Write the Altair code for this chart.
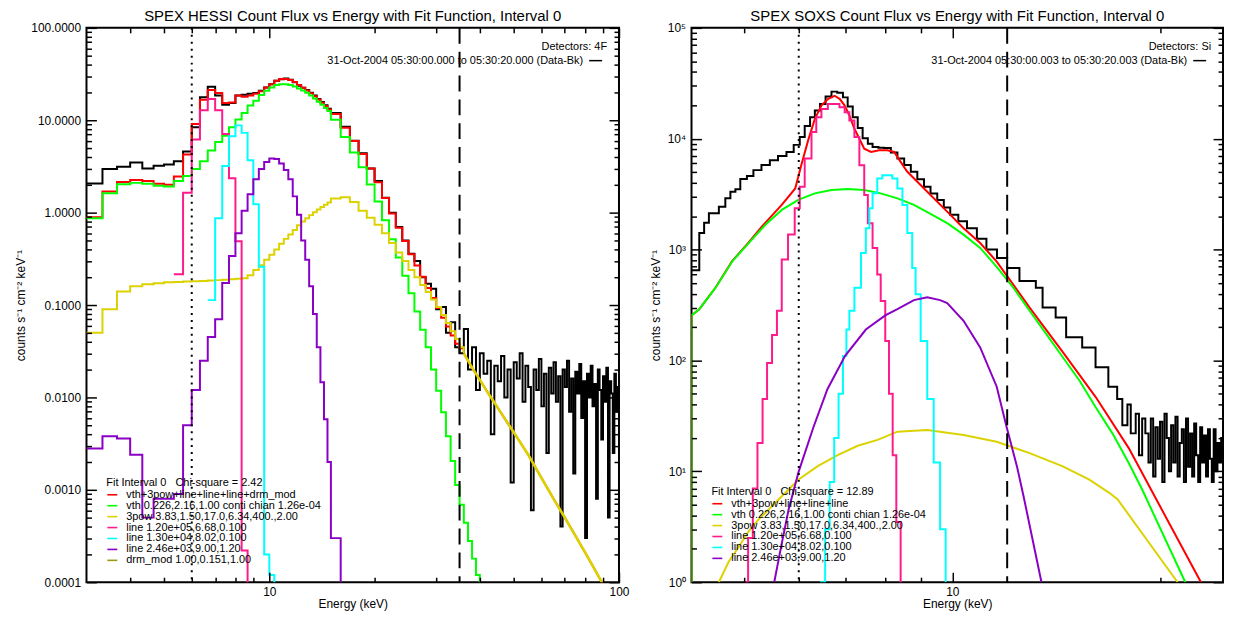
import altair as alt
import pandas as pd

FONT = "Liberation Sans"

# ======================= HESSI (left panel) =======================
h_fine_E = [3.0, 3.333, 3.667, 4.0, 4.333, 4.667, 5.0, 5.333, 5.667, 6.0, 6.333, 6.667,
            7.0, 7.333, 7.667, 8.0, 8.333, 8.667, 9.0, 9.333, 9.667, 10.0, 10.333, 10.667,
            11.0, 11.333, 11.667, 12.0, 12.333, 12.667, 13.0, 13.333, 13.667, 14.0, 14.333, 14.667]
h_coarse_E = [15, 16, 17, 18, 19, 20, 21, 22, 23, 24, 25, 26, 27, 28, 29, 30, 31, 32, 33, 34,
              35, 36, 37, 38, 39, 40, 41, 42, 43, 44, 45, 46, 47, 48, 49, 50, 51, 52, 53, 54,
              55, 56, 57, 58, 59, 60, 61, 62, 63, 64, 65, 66, 67, 68, 69, 70, 71, 72, 73, 74,
              75, 76, 77, 78, 79, 80, 81, 82, 83, 84, 85, 86, 87, 88, 89, 90, 91, 92, 93, 94,
              95, 96, 97, 98, 99, 100]

h_black_fine = [2.07, 2.96, 3.13, 3.48, 3.0, 3.21, 3.32, 3.6, 4.6, 8.4, 17.7, 23.1,
                18.5, 14.7, 15.4, 18.5, 18.9, 19.3, 19.7, 20.9, 22.6, 24.5, 26.7, 27.8,
                28.3, 27.4, 25.7, 23.6, 22.5, 21.2, 19.8, 18.5, 17.0, 15.8, 14.5, 13.3]
h_black_coarse = [12.0, 8.5, 6.0, 4.4, 3.0, 2.2, 1.45, 1.0, 0.70, 0.50, 0.36, 0.30, 0.20, 0.17,
                  0.15, 0.09, 0.095, 0.05, 0.065, 0.035,
                  0.03, 0.055, 0.02, 0.035, 0.012, 0.03, 0.018, 0.025, 0.004, 0.022, 0.015, 0.028,
                  0.01, 0.02, 0.0012, 0.024, 0.016, 0.03, 0.009, 0.022, 0.013, 0.0006, 0.02,
                  0.012, 0.026, 0.008, 0.018, 0.0025, 0.021, 0.011, 0.024, 0.009, 0.017, 0.0004,
                  0.02, 0.013, 0.025, 0.007, 0.016, 0.0015, 0.019, 0.011, 0.023, 0.006, 0.015,
                  0.0003, 0.018, 0.01, 0.022, 0.008, 0.014, 0.0008, 0.02, 0.012, 0.0035, 0.017,
                  0.009, 0.021, 0.0005, 0.015, 0.011, 0.0025, 0.018, 0.007, 0.013, 0.013]

h_red_fine = [0.89, 1.69, 2.15, 2.26, 2.2, 2.05, 2.0, 2.46, 4.26, 9.1, 16.7, 21.3,
              19.7, 15.4, 15.6, 18.5, 18.0, 18.5, 19.4, 20.6, 22.6, 24.5, 26.7, 28.0,
              28.0, 27.3, 26.0, 24.0, 22.5, 21.0, 19.6, 18.2, 16.8, 15.5, 14.3, 13.1]
h_red_coarse_E = [15, 16, 17, 18, 19, 20, 21, 22, 23, 24, 25, 26, 27, 28, 29, 30, 31, 32, 33, 34,
                  35, 36]
h_red_coarse = [11.7, 8.3, 5.96, 4.32, 3.01, 2.13, 1.44, 0.98, 0.685, 0.494, 0.355, 0.268, 0.202,
                0.153, 0.119, 0.093, 0.073, 0.0585, 0.0467, 0.038, 0.034, 0.034]

h_green_fine = [0.87, 1.62, 2.03, 2.1, 2.05, 1.95, 1.92, 2.2, 2.49, 2.96, 3.6, 4.7,
                5.8, 6.8, 8.4, 10.2, 12.0, 14.4, 16.3, 18.8, 20.9, 22.6, 24.0, 24.5,
                24.5, 24.0, 23.2, 22.1, 21.0, 19.8, 18.5, 17.2, 15.9, 14.7, 13.6, 12.6]
h_green_coarse_E = [15, 16, 17, 18, 19, 20, 21, 22, 23, 24, 25, 26, 27, 28, 29, 30, 31, 32, 33,
                    34, 35, 36, 37, 38, 39, 40, 41, 42]
h_green_coarse = [10.1, 6.57, 4.47, 3.1, 2.02, 1.32, 0.825, 0.515, 0.326, 0.208, 0.134, 0.085,
                  0.054, 0.035, 0.020, 0.0118, 0.0069, 0.0038, 0.00205, 0.00113, 0.00069,
                  0.00044, 0.00028, 0.00018, 0.00012, 0.00008, 0.00005, 0.00005]

h_yellow_fine = [0.05, 0.09, 0.14, 0.16, 0.168, 0.172, 0.176, 0.178, 0.18, 0.181, 0.182, 0.184,
                 0.186, 0.188, 0.19, 0.192, 0.195, 0.21, 0.24, 0.27, 0.31, 0.35, 0.40, 0.46,
                 0.52, 0.58, 0.65, 0.73, 0.80, 0.87, 0.94, 1.01, 1.08, 1.15, 1.22, 1.29]
h_yellow_mid_E = [15, 16, 17, 18, 19, 20, 21, 22, 23, 24, 25, 26, 27, 28, 29, 30, 31, 32, 33,
                  34, 35, 36]
h_yellow_mid = [1.42, 1.47, 1.3, 1.05, 0.88, 0.74, 0.6, 0.47, 0.37, 0.3, 0.24, 0.2, 0.165,
                0.138, 0.115, 0.095, 0.078, 0.064, 0.052, 0.043, 0.035, 0.03]
h_yellow_tail_E = [36, 38, 40, 42, 44, 46, 48, 50, 55, 60, 65, 70, 75, 80, 85, 90, 95, 100]
h_yellow_tail = [0.03, 0.021, 0.0155, 0.0115, 0.0088, 0.0068, 0.0053, 0.0042, 0.0024, 0.00135,
                 0.0008, 0.0005, 0.00032, 0.00021, 0.00014, 0.000095, 0.000068, 0.00005]

h_pink_E = [5.333, 5.667, 6.0, 6.333, 6.667, 7.0, 7.333, 7.667, 8.0, 8.333, 8.667, 9.0]
h_pink = [0.216, 1.64, 6.2, 12.8, 17.0, 12.8, 7.1, 2.36, 0.49, 0.00022, 0.00002, 0.00002]

h_cyan_E = [6.667, 7.0, 7.333, 7.667, 8.0, 8.333, 8.667, 9.0, 9.333, 9.667, 10.0, 10.333, 10.667]
h_cyan = [0.113, 0.87, 3.2, 6.7, 8.8, 7.3, 3.7, 1.23, 0.26, 0.0002, 0.00012, 0.00002, 0.00002]

h_purple_E = [3.0, 3.333, 3.667, 4.0, 4.333, 4.667, 5.0, 5.333, 5.667, 6.0, 6.333, 6.667,
              7.0, 7.333, 7.667, 8.0, 8.333, 8.667, 9.0, 9.333, 9.667, 10.0, 10.333, 10.667,
              11.0, 11.333, 11.667, 12.0, 12.333, 12.667, 13.0, 13.333, 13.667, 14.0, 14.333,
              14.667, 15.0, 16.0, 17.0]
h_purple = [0.0028, 0.0038, 0.0036, 0.0024, 0.0005, 0.0008, 0.0008, 0.0009, 0.005, 0.012,
            0.025, 0.045, 0.07, 0.173, 0.34, 0.60, 1.05, 1.58, 2.3, 2.96, 3.54, 3.85, 3.8, 3.4,
            2.9, 2.3, 1.5, 0.95, 0.5, 0.31, 0.16, 0.08, 0.035, 0.0146, 0.0058, 0.002, 0.0003,
            0.00001, 0.00001]

h_labels = ["vth+3pow+line+line+line+drm_mod",
            "vth 0.226,2.16,1.00  conti chian 1.26e-04",
            "3pow 3.83,1.50,17.0,6.34,400.,2.00",
            "line 1.20e+05,6.68,0.100",
            "line 1.30e+04,8.02,0.100",
            "line 2.46e+03,9.00,1.20",
            "drm_mod 1.00,0.151,1.00"]
h_colors = ["#ff0000", "#00ff00", "#dcd200", "#ff1a8c", "#00ffff", "#8a00c4", "#9a9a10"]

# ======================= SOXS (right panel) =======================
s_black_E = [4.20, 4.31, 4.38, 4.45, 4.60, 4.70, 4.78, 4.86, 4.94, 5.05, 5.16, 5.30, 5.45, 5.60,
             5.76, 5.90, 6.02, 6.12, 6.23, 6.33, 6.44, 6.56, 6.69, 6.82, 6.95, 7.06, 7.18, 7.30,
             7.42, 7.55, 7.67, 7.82, 7.97, 8.15, 8.33, 8.52, 8.71, 8.90, 9.10, 9.30, 9.51, 9.72,
             9.93, 10.2, 10.5, 10.85, 11.2, 11.6, 12.0, 12.5, 13.2, 13.5, 14.1, 14.6, 15.4, 16.1,
             16.8, 17.3, 17.6, 17.9, 18.1, 18.4, 18.6, 18.8, 19.0, 19.2, 19.35, 19.5, 19.65, 19.8,
             19.95, 20.1, 20.25, 20.4, 20.55, 20.7, 20.85, 21.0, 21.15, 21.3, 21.45, 21.6, 21.75,
             21.9, 22.05, 22.2, 22.35, 22.5, 22.65, 22.8, 22.95, 23.1, 23.25, 23.4, 23.55, 23.7,
             23.85, 24.0, 24.15, 24.3, 24.45, 24.6]
s_black = [650, 1410, 1750, 2130, 2440, 2900, 3330, 3500, 4330, 4600, 5210, 5800, 6400, 7000,
           7600, 8800, 10350, 13000, 15600, 18000, 20600, 24000, 26600, 26000, 23600, 19500,
           15600, 12500, 10100, 9000, 8410, 8300, 8240, 7500, 6620, 5800, 5030, 4300, 3690, 3200,
           2800, 2400, 2060, 1800, 1560, 1250, 1000, 841, 684, 520, 453, 300, 244, 162, 131, 87,
           58, 45, 26, 40, 22, 33, 14, 30, 22, 12, 30, 9, 25, 13, 28, 8, 33, 20, 10, 26, 12, 31,
           9, 18, 24, 8, 30, 11, 22, 9, 27, 14, 8, 25, 12, 21, 9, 24, 13, 8, 24, 10, 18, 12, 20,
           20]

s_red_E = [4.2, 4.2, 4.31, 4.55, 4.81, 5.08, 5.31, 5.67, 5.93, 6.05, 6.19, 6.33, 6.47, 6.61, 6.76,
           6.88, 6.99, 7.10, 7.22, 7.34, 7.46, 7.63, 7.84, 8.06, 8.24, 8.42, 8.61, 8.90, 9.30,
           9.83, 10.38, 10.97, 11.59, 12.93, 14.44, 16.1, 17.98, 19.65, 22.86]
s_red = [0.5, 255, 290, 455, 790, 1160, 1620, 2530, 3560, 5770, 9660, 15100, 19900, 22800, 24400,
         22800, 19900, 16200, 12300, 10000, 8130, 7600, 7870, 7870, 7600, 6180, 5030, 4090, 3110,
         2200, 1560, 1145, 780, 300, 119, 47, 16.2, 5.77, 1.0]

s_green_E = [4.2, 4.2, 4.31, 4.55, 4.81, 5.08, 5.37, 5.67, 5.99, 6.33, 6.69, 7.06, 7.46, 7.88,
             8.33, 8.80, 9.30, 9.83, 10.38, 10.97, 11.59, 12.25, 12.93, 13.67, 14.44, 15.26,
             16.1, 17.03, 17.98, 18.8, 21.7]
s_green = [0.5, 255, 290, 453, 785, 1145, 1675, 2280, 2805, 3215, 3450, 3520, 3450, 3215, 2900,
           2530, 2100, 1730, 1365, 1035, 700, 453, 281, 173, 107, 66, 38, 22, 11.9, 6.85, 1.0]

s_yellow_E = [4.6, 4.75, 4.91, 5.08, 5.25, 5.43, 5.61, 5.80, 5.99, 6.4, 6.84, 7.3, 7.8, 8.33,
              9.2, 10.38, 11.59, 12.93, 14.44, 15.77, 16.85, 17.32, 21.15]
s_yellow = [1.0, 1.52, 2.07, 2.88, 3.69, 4.53, 5.57, 6.85, 8.4, 11.2, 14.1, 17.0, 19.2, 22.8,
            23.6, 21.3, 18.5, 14.6, 11.1, 8.4, 6.4, 5.6, 1.0]

s_pink_E = [5.0, 5.07, 5.15, 5.23, 5.32, 5.40, 5.49, 5.58, 5.67, 5.79, 5.92, 6.02, 6.12, 6.26,
            6.36, 6.47, 6.61, 6.76, 6.87, 6.99, 7.10, 7.22, 7.34, 7.46, 7.55, 7.67, 7.79, 7.88,
            8.0, 8.1, 8.2, 8.3, 8.42]
s_pink = [1.0, 2.5, 7, 18, 45, 95, 170, 281, 815, 1365, 2360, 3690, 6620, 11500, 15600, 18500,
          20600, 20600, 19200, 17300, 14600, 10350, 5770, 3110, 1730, 1035, 597, 344, 150, 50,
          14, 3.5, 0.9]

s_cyan_E = [6.44, 6.55, 6.65, 6.75, 6.85, 6.95, 7.03, 7.10, 7.22, 7.38, 7.50, 7.59, 7.67, 7.79,
            7.92, 8.06, 8.19, 8.33, 8.47, 8.61, 8.75, 8.85, 9.0, 9.2, 9.4, 9.6, 9.78]
s_cyan = [1.0, 3, 8, 20, 50, 110, 190, 281, 453, 933, 1560, 2360, 3215, 4380, 4690, 4690, 4380,
          3560, 2530, 1410, 684, 395, 150, 45, 12, 3, 1.0]

s_purple_E = [5.53, 5.65, 5.8, 6.0, 6.3, 6.6, 7.0, 7.5, 8.0, 8.33, 8.8, 9.2, 9.6, 9.83, 10.38,
              10.97, 11.59, 11.98, 12.4, 12.67, 13.45]
s_purple = [1.0, 2, 4.5, 10, 25, 55, 110, 190, 255, 290, 350, 372, 350, 330, 228, 131, 58, 25,
            11, 6, 1.0]

s_labels = ["vth+3pow+line+line+line",
            "vth 0.226,2.16,1.00  conti chian 1.26e-04",
            "3pow 3.83,1.50,17.0,6.34,400.,2.00",
            "line 1.20e+05,6.68,0.100",
            "line 1.30e+04,8.02,0.100",
            "line 2.46e+03,9.00,1.20"]
s_colors = ["#ff0000", "#00ff00", "#dcd200", "#ff1a8c", "#00ffff", "#8a00c4"]

# ---------------- axis tick positions ----------------
h_x_major = [10, 100]
h_x_minor = [4, 5, 6, 7, 8, 9, 20, 30, 40, 50, 60, 70, 80, 90]
h_y_major = [0.0001, 0.001, 0.01, 0.1, 1, 10, 100]
h_y_minor = [m * d for d in [0.0001, 0.001, 0.01, 0.1, 1, 10] for m in range(2, 10)]
s_x_major = [10]
s_x_minor = [5, 6, 7, 8, 9, 20]
s_y_major = [1, 10, 100, 1000, 10000, 100000]
s_y_minor = [m * d for d in [1, 10, 100, 1000, 10000] for m in range(2, 10)]

h_marks = {"dotted": 6.0, "dashed": 35.0}
s_marks = {"dotted": 6.0, "dashed": 12.0}

W_L, W_R, H = 536, 535, 558
YTITLE = "counts s\u207b\u00b9 cm\u207b\u00b2 keV\u207b\u00b9"
NB = "\u00a0"


def frame(E, F, label=None):
    d = pd.DataFrame({"E": E, "F": F, "i": list(range(len(E)))})
    if label is not None:
        d["label"] = label
    return d


def tick_axes(orient_x, orient_y, xv, yv, size):
    ax = alt.Axis(orient=orient_x, values=xv, tickSize=size, offset=-size, labels=False,
                  domain=False, grid=False, title=None, tickColor="black", tickWidth=1.5,
                  zindex=2)
    ay = alt.Axis(orient=orient_y, values=yv, tickSize=size, offset=-size, labels=False,
                  domain=False, grid=False, title=None, tickColor="black", tickWidth=1.5,
                  zindex=2)
    return ax, ay


def build(xdom, ydom, width, x_major, x_minor, y_major, y_minor, x_label_vals, y_label_expr,
          y_title_pad, series, labels, colors, legend_title, legend_y, marks, title,
          det_text, date_text):
    xs = alt.Scale(type="log", domain=xdom, nice=False)
    ys = alt.Scale(type="log", domain=ydom, nice=False)
    cs = alt.Scale(domain=labels, range=colors)
    leg = alt.Legend(orient="none", legendX=20, legendY=legend_y, title=legend_title,
                     titleFontSize=11, titleFontWeight="normal", titleFont=FONT,
                     titleColor="black", titlePadding=1, labelFontSize=11, labelFont=FONT,
                     labelColor="black", labelLimit=500, symbolType="stroke",
                     symbolStrokeWidth=1.6, symbolSize=100, rowPadding=-0.7, padding=0,
                     labelOffset=8)
    lab_x = alt.Axis(orient="bottom", values=x_label_vals, ticks=False, domain=False, grid=False,
                     labelFontSize=12, labelFont=FONT, labelColor="black", labelPadding=4,
                     labelFlush=False, format="d", title="Energy (keV)", titleFontSize=12,
                     titleFont=FONT, titleFontWeight="normal", titleColor="black",
                     titlePadding=1)
    lab_y = alt.Axis(orient="left", values=y_major, ticks=False, domain=False, grid=False,
                     labelFontSize=12, labelFont=FONT, labelColor="black", labelPadding=6,
                     labelFlush=False, labelExpr=y_label_expr, title=YTITLE, titleFontSize=12,
                     titleFont=FONT, titleFontWeight="normal", titleColor="black",
                     titlePadding=y_title_pad)
    axis_pairs = [(lab_x, lab_y),
                  tick_axes("bottom", "left", x_major, y_major, 10),
                  tick_axes("bottom", "left", x_minor, y_minor, 5),
                  tick_axes("top", "right", x_major, y_major, 10),
                  tick_axes("top", "right", x_minor, y_minor, 5)]
    layers = []
    for k, (d, interp, colored, sw) in enumerate(series):
        ax, ay = axis_pairs[k] if k < len(axis_pairs) else (None, None)
        enc = dict(x=alt.X("E:Q", scale=xs, axis=ax),
                   y=alt.Y("F:Q", scale=ys, axis=ay),
                   order=alt.Order("i:Q"))
        if not colored:
            m = alt.Chart(d).mark_line(interpolate=interp, color="black", strokeWidth=sw, clip=True)
        else:
            m = alt.Chart(d).mark_line(interpolate=interp, strokeWidth=sw, clip=True)
            enc["color"] = alt.Color("label:N", scale=cs, legend=leg)
        layers.append(m.encode(**enc))
    # vertical markers
    layers.append(alt.Chart(pd.DataFrame({"E": [marks["dotted"]]})).mark_rule(
        color="black", strokeWidth=2, strokeDash=[2, 5]).encode(
        x=alt.X("E:Q", scale=xs, axis=None)))
    layers.append(alt.Chart(pd.DataFrame({"E": [marks["dashed"]]})).mark_rule(
        color="black", strokeWidth=2, strokeDash=[16, 8]).encode(
        x=alt.X("E:Q", scale=xs, axis=None)))
    # annotations
    layers.append(alt.Chart(pd.DataFrame({"t": [title]})).mark_text(
        align="center", baseline="middle", fontSize=15, font=FONT, color="black").encode(
        text="t:N", x=alt.value(width / 2), y=alt.value(-12)))
    layers.append(alt.Chart(pd.DataFrame({"t": [det_text]})).mark_text(
        align="right", baseline="middle", fontSize=11, font=FONT, color="black").encode(
        text="t:N", x=alt.value(width - 12), y=alt.value(19)))
    layers.append(alt.Chart(pd.DataFrame({"t": [date_text]})).mark_text(
        align="right", baseline="middle", fontSize=11, font=FONT, color="black").encode(
        text="t:N", x=alt.value(width - 36), y=alt.value(33)))
    layers.append(alt.Chart(pd.DataFrame({"t": ["seg"]})).mark_rule(
        color="black", strokeWidth=1.5).encode(
        x=alt.value(width - 30), x2=alt.value(width - 17), y=alt.value(33)))
    return alt.layer(*layers).resolve_axis(x="independent", y="independent").properties(
        width=width, height=H)


h_series = [
    (frame(h_fine_E + h_coarse_E, h_black_fine + h_black_coarse), "step-after", False, 2),
    (frame(h_fine_E + h_red_coarse_E, h_red_fine + h_red_coarse, h_labels[0]), "step-after", True, 2),
    (frame(h_yellow_tail_E, h_yellow_tail, h_labels[0]), "linear", True, 2),
    (frame(h_fine_E + h_green_coarse_E, h_green_fine + h_green_coarse, h_labels[1]), "step-after", True, 2),
    (frame(h_fine_E + h_yellow_mid_E, h_yellow_fine + h_yellow_mid, h_labels[2]), "step-after", True, 2),
    (frame(h_yellow_tail_E, h_yellow_tail, h_labels[2]), "linear", True, 2.6),
    (frame(h_pink_E, h_pink, h_labels[3]), "step-after", True, 2),
    (frame(h_cyan_E, h_cyan, h_labels[4]), "step-after", True, 2),
    (frame(h_purple_E, h_purple, h_labels[5]), "step-after", True, 2),
]

s_series = [
    (frame(s_black_E, s_black), "step-after", False, 2),
    (frame(s_red_E, s_red, s_labels[0]), "linear", True, 2),
    (frame(s_green_E, s_green, s_labels[1]), "linear", True, 2),
    (frame(s_yellow_E, s_yellow, s_labels[2]), "linear", True, 2),
    (frame(s_pink_E, s_pink, s_labels[3]), "step-after", True, 2),
    (frame(s_cyan_E, s_cyan, s_labels[4]), "step-after", True, 2),
    (frame(s_purple_E, s_purple, s_labels[5]), "linear", True, 2),
]

left = build([3, 100], [0.0001, 100], W_L, h_x_major, h_x_minor, h_y_major, h_y_minor,
             [10, 100], "format(datum.value, '.4f')", 3, h_series, h_labels, h_colors,
             "Fit Interval 0" + NB * 3 + "Chi-square = 2.42", 452, h_marks,
             "SPEX HESSI Count Flux vs Energy with Fit Function, Interval 0",
             "Detectors: 4F", "31-Oct-2004 05:30:00.000 to 05:30:20.000 (Data-Bk)")

right = build([4.2, 24.6], [1, 100000], W_R, s_x_major, s_x_minor, s_y_major, s_y_minor,
              [10], "'10' + ['\u2070','\u00b9','\u00b2','\u00b3','\u2074','\u2075'][round(log(datum.value)/LN10)]",
              4.5, s_series, s_labels, s_colors,
              "Fit Interval 0" + NB * 3 + "Chi-square = 12.89", 461, s_marks,
              "SPEX SOXS Count Flux vs Energy with Fit Function, Interval 0",
              "Detectors: Si", "31-Oct-2004 05:30:00.003 to 05:30:20.003 (Data-Bk)")

chart = alt.hconcat(left, right, spacing=17).resolve_scale(color="independent").properties(
    padding={"left": 5, "top": -2, "right": 0, "bottom": 0}
).configure_view(stroke="black", strokeWidth=2).configure_axis(grid=False)

chart.save("out.html", embed_options={"renderer": "svg", "actions": False})
